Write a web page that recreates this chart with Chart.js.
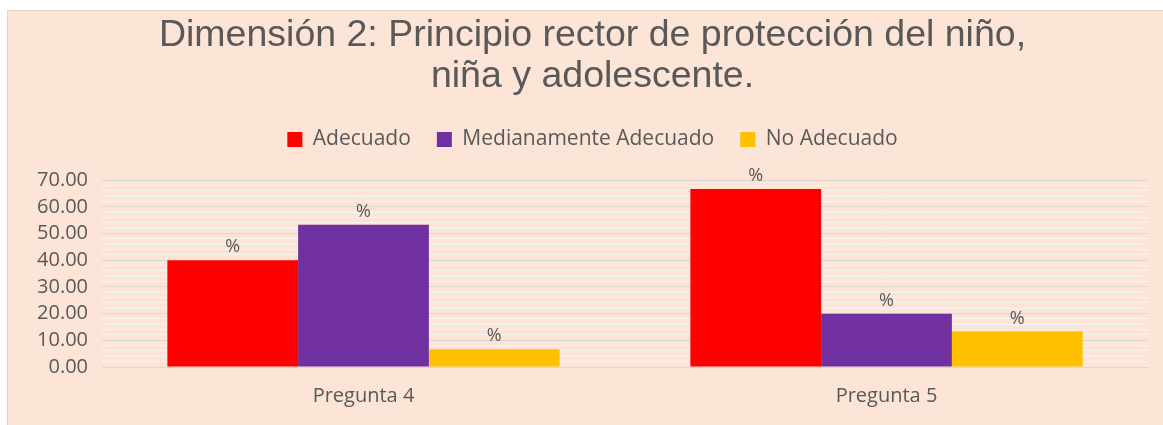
<!DOCTYPE html>
<html>
<head>
<meta charset="utf-8">
<script src="https://cdn.jsdelivr.net/npm/chart.js@4"></script>
<style>
    body { margin: 0; background: #ffffff; }
    #panel {
        position: absolute; left: 7px; top: 10px;
        width: 1155px; height: 414px;
        background: #fce4d6;
        border-left: 1px solid #e3d5cc;
        border-top: 1px solid #e3d5cc;
    }
    #box { position: relative; width: 1155px; height: 414px; }
</style>
</head>
<body>
<div id="panel"><div id="box"><canvas id="barChart"></canvas></div></div>
<script>
// chart data
const titleLines = ['Dimensión 2: Principio rector de protección del niño,', 'niña y adolescente.'];
const categories = ['Pregunta 4', 'Pregunta 5'];
const seriesNames = ['Adecuado', 'Medianamente Adecuado', 'No Adecuado'];
const adecuado = [40.00, 66.67];
const medianamente = [53.33, 20.00];
const noAdecuado = [6.67, 13.33];
const barLabel = '%';

const textColor = '#595959';
const font = "'Open Sans', sans-serif";

// writes "%" above every bar
const barLabelPlugin = {
    id: 'barLabels',
    afterDatasetsDraw(chart) {
        const ctx = chart.ctx;
        ctx.save();
        ctx.font = `18px ${font}`;
        ctx.fillStyle = textColor;
        ctx.textAlign = 'center';
        ctx.textBaseline = 'middle';
        chart.data.datasets.forEach((ds, i) => {
            chart.getDatasetMeta(i).data.forEach(bar => {
                ctx.fillText(barLabel, bar.x, bar.y - 13);
            });
        });
        ctx.restore();
    }
};

const ctx = document.getElementById('barChart').getContext('2d');
new Chart(ctx, {
    type: 'bar',
    data: {
        labels: categories,
        datasets: [
            { label: seriesNames[0], data: adecuado, backgroundColor: '#ff0000' },
            { label: seriesNames[1], data: medianamente, backgroundColor: '#7030a0' },
            { label: seriesNames[2], data: noAdecuado, backgroundColor: '#ffc000' }
        ]
    },
    options: {
        responsive: true,
        maintainAspectRatio: false,
        animation: false,
        barPercentage: 1,
        categoryPercentage: 0.75,
        layout: { padding: { left: 29, right: 15, top: 0, bottom: 17 } },
        plugins: {
            title: {
                display: true,
                text: titleLines,
                color: textColor,
                font: { family: "'Liberation Sans', Arial, sans-serif", size: 37.5, weight: 'normal', lineHeight: 41 / 37.5 },
                padding: { top: 4, bottom: 6 }
            },
            legend: {
                position: 'top',
                labels: {
                    color: textColor,
                    font: { family: font, size: 21 },
                    boxWidth: 15,
                    boxHeight: 15,
                    padding: 26
                }
            },
            // spacer between legend and plot
            subtitle: {
                display: true,
                text: '',
                weight: 500,
                font: { size: 1 },
                padding: { top: 0, bottom: 19 }
            },
            tooltip: { enabled: false }
        },
        scales: {
            x: {
                afterFit(scale) { scale.height = 41; },
                grid: { display: false, drawTicks: false },
                border: { display: false },
                ticks: { color: textColor, font: { family: font, size: 20 }, padding: 17 }
            },
            y: {
                min: 0,
                max: 70,
                afterFit(scale) { scale.width = 65; },
                border: { display: false },
                grid: {
                    drawTicks: false,
                    color: (c) => (c.tick && c.tick.value % 10 === 0) ? '#d9d6d4' : '#f7f3f1'
                },
                ticks: {
                    stepSize: 2,
                    autoSkip: false,
                    padding: 14,
                    color: textColor,
                    font: { family: font, size: 20 },
                    callback: (v) => v % 10 === 0 ? v.toFixed(2) : ''
                }
            }
        }
    },
    plugins: [barLabelPlugin]
});
</script>
</body>
</html>
